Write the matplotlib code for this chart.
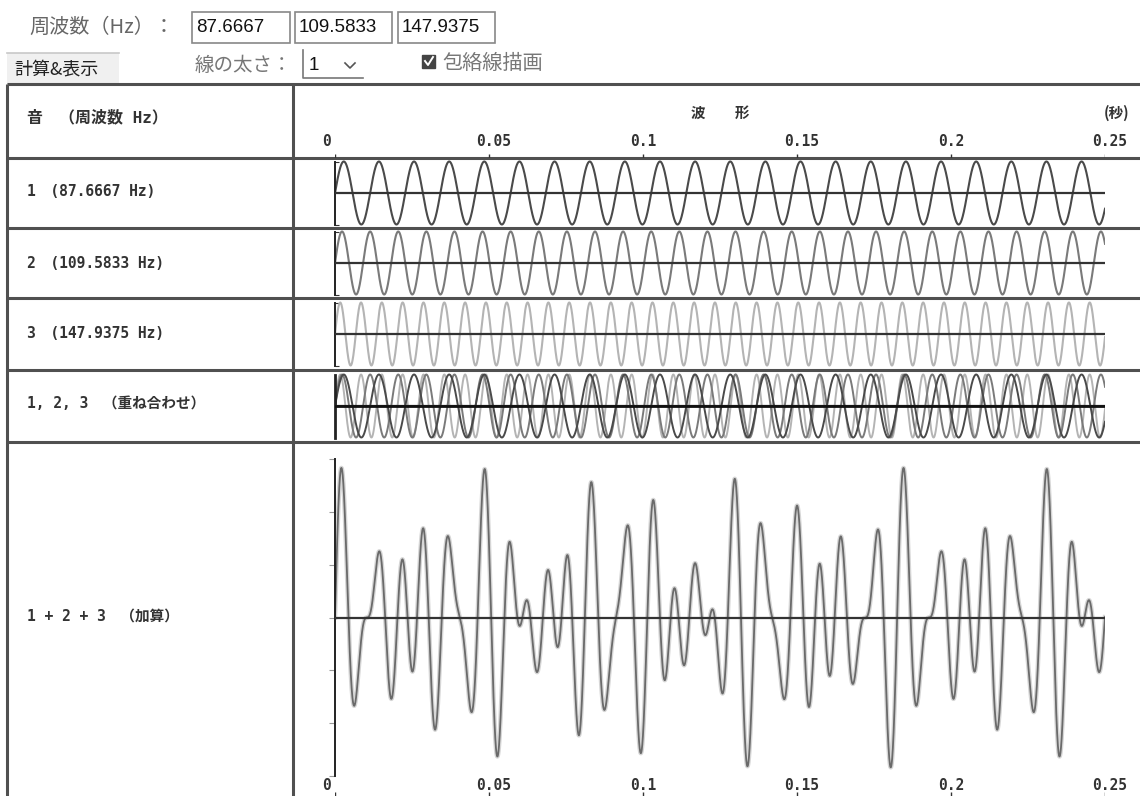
import numpy as np
import matplotlib
matplotlib.use("Agg")
import matplotlib.pyplot as plt
from matplotlib.patches import Rectangle

# frequencies typed into the three input boxes (Hz)
FREQS = [87.6667, 109.5833, 147.9375]
FREQ_TEXT = ["87.6667", "109.5833", "147.9375"]
WAVE_COLORS = ["#4a4a4a", "#7a7a7a", "#b4b4b4"]
T_END = 0.25
T_TICKS = [0, 0.05, 0.1, 0.15, 0.2, 0.25]
T_TICK_LABELS = ["0", "0.05", "0.1", "0.15", "0.2", "0.25"]

ROW_LABELS = ["1\u3000(87.6667 Hz)", "2\u3000(109.5833 Hz)", "3\u3000(147.9375 Hz)",
              "1, 2, 3\u3000（重ね合わせ）", "1 + 2 + 3\u3000（加算）"]
HEADER_LEFT = "音\u3000（周波数 Hz）"

W, H = 1140, 796
JP = ["Noto Sans CJK JP", "DejaVu Sans"]
TBL = ["DejaVu Sans Mono", "Noto Sans CJK JP"]

t = np.linspace(0, T_END, 6000)
waves = [np.sin(2 * np.pi * f * t) for f in FREQS]
total = waves[0] + waves[1] + waves[2]

fig = plt.figure(figsize=(W / 100, H / 100), dpi=100)
bg = fig.add_axes([0, 0, 1, 1])
bg.set_xlim(0, W)
bg.set_ylim(H, 0)
bg.axis("off")


def px_axes(x0, y0, x1, y1):
    ax = fig.add_axes([x0 / W, 1 - y1 / H, (x1 - x0) / W, (y1 - y0) / H])
    ax.patch.set_alpha(0)
    return ax


# ---- top controls ----
bg.text(29, 27, "周波数（Hz）：", family=JP, fontsize=14.5, color="#666", va="center")
box_x = [(192, 290), (295, 392), (398, 495)]
for (x0, x1), s in zip(box_x, FREQ_TEXT):
    bg.add_patch(Rectangle((x0, 12), x1 - x0, 31, facecolor="white", edgecolor="#888", lw=1.2))
    bg.text(x0 + 4, 28, s, family="Liberation Sans", fontsize=13.5, color="#111", va="center")

bg.add_patch(Rectangle((7, 53), 112, 31, facecolor="#f0f0f0", edgecolor="none"))
bg.plot([7, 119], [53, 53], color="#c8c8c8", lw=1.2)
bg.text(14, 69, "計算&表示", family=JP, fontsize=13, color="#222", va="center")

bg.text(195, 65, "線の太さ：", family=JP, fontsize=14, color="#777", va="center")
bg.plot([303, 303, 363], [50, 78, 78], color="#777", lw=1.2)
bg.text(309, 66, "1", family="Liberation Sans", fontsize=13.5, color="#111", va="center")
bg.plot([345, 350, 355], [63, 68, 63], color="#555", lw=1.2)

bg.add_patch(Rectangle((422, 55), 13, 13, facecolor="#444", edgecolor="#444"))
bg.plot([425, 428, 433], [61, 65, 57], color="white", lw=1.4)
bg.text(442, 63, "包絡線描画", family=JP, fontsize=14.5, color="#777", va="center")

# ---- table frame ----
row_edges = [84, 158, 228, 298, 370, 442]
for y in row_edges:
    bg.plot([7, W], [y, y], color="#505050", lw=2.2, solid_capstyle="butt")
for x in [7, 293]:
    bg.plot([x, x], [84, H], color="#505050", lw=2.2, solid_capstyle="butt")

bg.text(27, 117, HEADER_LEFT, family=TBL, fontsize=11.5, weight="bold", color="#333", va="center")
label_y = [192, 263, 334, 404, 616]
for y, s in zip(label_y, ROW_LABELS):
    bg.text(27, y, s, family=TBL, fontsize=10.5, weight="bold", color="#333", va="center")

# header: title and time ticks
X0, X1 = 335, 1105
hdr = px_axes(X0, 84, X1, 158)
hdr.set_xlim(0, T_END)
hdr.set_ylim(158, 84)
hdr.axis("off")
hdr.text(T_END / 2, 113, "波\u3000\u3000形", family=JP, fontsize=10.5, weight="bold", color="#333",
         ha="center", va="center")
bg.text(1104, 113, "(秒)", family=JP, fontsize=10.5, weight="bold", color="#333", va="center")
dx = 13 / (X1 - X0) * T_END
for tk, lab in zip(T_TICKS, T_TICK_LABELS):
    hdr.text(tk - dx, 141, lab, family="DejaVu Sans Mono", fontsize=10.5, weight="bold",
             color="#333", ha="left", va="center")
hdr.vlines(T_TICKS, 154, 158, color="#333", lw=1)

# ---- wave rows ----
rows = [(158, 228, 193), (228, 298, 263), (298, 370, 334), (370, 442, 406), (442, 776, 620)]
scales = [31.5, 31.5, 31.5, 31.5, 53.5]


def wave_axes(i):
    y0, y1, c = rows[i]
    ax = px_axes(X0, y0, X1, y1)
    s = scales[i]
    ax.set_xlim(0, T_END)
    ax.set_ylim(-(y1 - c) / s, (c - y0) / s)
    for k in ["top", "right", "bottom"]:
        ax.spines[k].set_visible(False)
    ax.spines["left"].set_color("#222")
    ax.spines["left"].set_linewidth(1.4)
    ax.set_xticks([])
    ax.axhline(0, color="#333", lw=1.6, zorder=3)
    return ax


for i in range(3):
    ax = wave_axes(i)
    ax.plot(t, waves[i], color=WAVE_COLORS[i], lw=1.5)
    ax.spines["left"].set_bounds(-1, 1)
    ax.set_yticks([-1, 1])
    ax.tick_params(axis="y", direction="in", length=3, color="#333", labelleft=False)

ax4 = wave_axes(3)
for i in [2, 1, 0]:
    ax4.plot(t, waves[i], color=WAVE_COLORS[i], lw=1.4)
ax4.spines["left"].set_bounds(-1, 1)
ax4.spines["left"].set_linewidth(2)
ax4.set_yticks([])
ax4.axhline(0, color="#111", lw=2, zorder=3)

ax5 = wave_axes(4)
ax5.plot(t, total, color="#d6d6d6", lw=3.2)
ax5.plot(t, total, color="#6a6a6a", lw=1.3)
ax5.spines["left"].set_bounds(-3, 3)
ax5.set_yticks([-3, -2, -1, 0, 1, 2, 3])
ax5.tick_params(axis="y", direction="out", length=4, color="#999", labelleft=False)

# bottom time labels
ftr = px_axes(X0, 776, X1, H)
ftr.set_xlim(0, T_END)
ftr.set_ylim(H, 776)
ftr.axis("off")
for tk, lab in zip(T_TICKS, T_TICK_LABELS):
    ftr.text(tk - dx, 786, lab, family="DejaVu Sans Mono", fontsize=10.5, weight="bold",
             color="#333", ha="left", va="center")
ftr.vlines(T_TICKS, 792, 796, color="#333", lw=1)

fig.savefig("out.png", dpi=100)
